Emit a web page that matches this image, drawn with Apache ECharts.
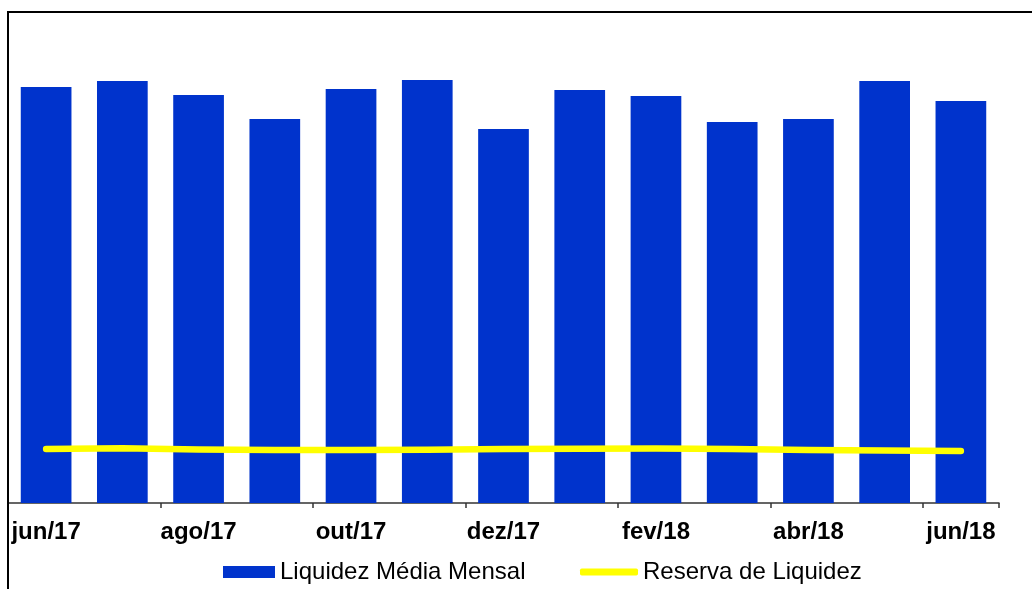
<!DOCTYPE html>
<html>
<head>
<meta charset="utf-8">
<title>Liquidez Média Mensal</title>
<script src="https://cdn.jsdelivr.net/npm/echarts@6/dist/echarts.min.js"></script>
<style>
  html, body { margin: 0; padding: 0; background: #ffffff; }
  #chart { width: 1032px; height: 589px; }
</style>
</head>
<body>
<div id="chart"></div>
<script>
// Monthly categories, jun/17 to jun/18
const months = ['jun/17', 'jul/17', 'ago/17', 'set/17', 'out/17', 'nov/17', 'dez/17',
                'jan/18', 'fev/18', 'mar/18', 'abr/18', 'mai/18', 'jun/18'];

// Average monthly liquidity
const liquidezMedia = [4160, 4220, 4080, 3840, 4140, 4230, 3740, 4130, 4070, 3810, 3840, 4220, 4020];

// Liquidity reserve
const reservaLiquidez = [540, 547, 535, 530, 530, 533, 540, 543, 545, 540, 530, 525, 520];

const FONT = '"Liberation Sans", Arial, Helvetica, sans-serif';

const chart = echarts.init(document.getElementById('chart'), null, { renderer: 'canvas' });

chart.setOption({
  animation: false,
  backgroundColor: '#ffffff',
  textStyle: { fontFamily: FONT },
  grid: { left: 8, right: 33, top: 3, bottom: 86, containLabel: false },
  xAxis: {
    type: 'category',
    data: months,
    boundaryGap: true,
    axisLine: { show: true, lineStyle: { color: '#333333', width: 1.5 } },
    axisTick: { show: true, interval: 1, length: 5, lineStyle: { color: '#333333', width: 1.5 } },
    axisLabel: {
      interval: 1,
      margin: 17,
      color: '#000000',
      fontFamily: FONT,
      fontWeight: 'bold',
      fontSize: 24
    },
    splitLine: { show: false }
  },
  yAxis: {
    type: 'value',
    min: 0,
    max: 5000,
    axisLine: { show: false },
    axisTick: { show: false },
    axisLabel: { show: false },
    splitLine: { show: false }
  },
  legend: [
    {
      left: 218,
      top: 555,
      itemWidth: 52,
      itemHeight: 12,
      itemGap: 20,
      textStyle: { fontFamily: FONT, fontSize: 24, color: '#000000' },
      data: [{ name: 'Liquidez Média Mensal', icon: 'rect' }]
    },
    {
      left: 575,
      top: 555,
      itemWidth: 58,
      itemHeight: 7,
      textStyle: { fontFamily: FONT, fontSize: 24, color: '#000000' },
      data: [{ name: 'Reserva de Liquidez', icon: 'roundRect', itemStyle: { color: '#ffff00' } }]
    }
  ],
  series: [
    {
      name: 'Liquidez Média Mensal',
      type: 'bar',
      data: liquidezMedia,
      barWidth: '66.5%',
      itemStyle: { color: '#0033cc' }
    },
    {
      name: 'Reserva de Liquidez',
      type: 'line',
      data: reservaLiquidez,
      showSymbol: false,
      symbol: 'none',
      lineStyle: { color: '#ffff00', width: 6.5, cap: 'round', join: 'round' },
      itemStyle: { color: '#ffff00' },
      z: 5
    }
  ],
  graphic: [
    {
      type: 'rect',
      silent: true,
      z: 100,
      shape: { x: 8, y: 12, width: 1200, height: 800 },
      style: { fill: null, stroke: '#000000', lineWidth: 2 }
    }
  ]
});
</script>
</body>
</html>
